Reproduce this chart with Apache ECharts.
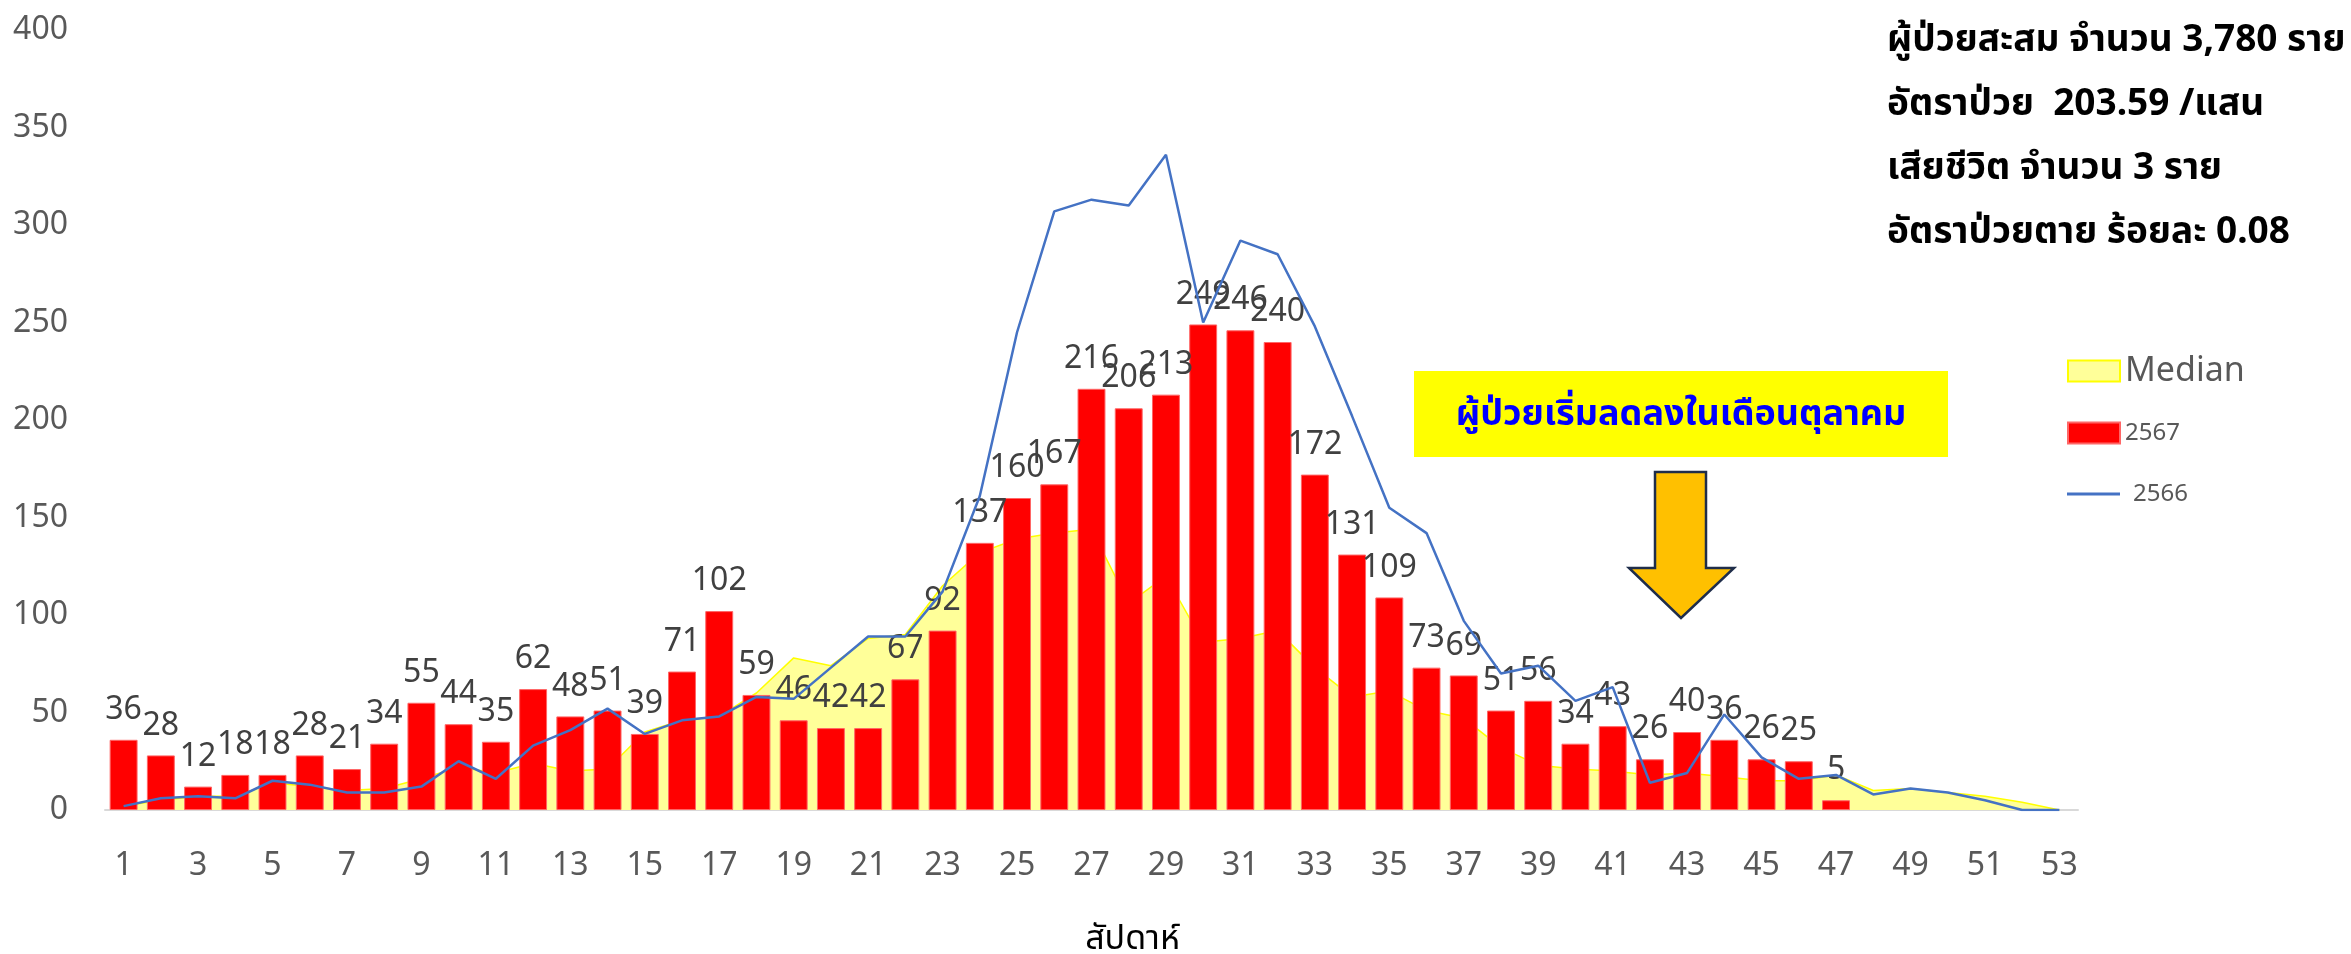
<!DOCTYPE html>
<html>
<head>
<meta charset="utf-8">
<script src="https://cdn.jsdelivr.net/npm/echarts@6/dist/echarts.min.js"></script>
<style>
  html, body { margin: 0; padding: 0; background: #ffffff; }
  #chart { width: 2351px; height: 954px; }
</style>
</head>
<body>
<div id="chart"></div>
<script>
// ---- data ----
const weeks = ['1','2','3','4','5','6','7','8','9','10','11','12','13','14','15','16','17','18','19','20',
  '21','22','23','24','25','26','27','28','29','30','31','32','33','34','35','36','37','38','39','40',
  '41','42','43','44','45','46','47','48','49','50','51','52','53'];

const cases2567 = [36,28,12,18,18,28,21,34,55,44,35,62,48,51,39,71,102,59,46,42,
  42,67,92,137,160,167,216,206,213,249,246,240,172,131,109,73,69,51,56,34,
  43,26,40,36,26,25,5];

const cases2566 = [2,6,7,6,15,13,9,9,12,25,16,33,41,52,39,46,48,58,57,73,
  89,89,112,161,245,307,313,310,336,250,292,285,248,202,155,142,97,70,74,56,
  63,14,19,49,27,16,18,8,11,9,5,0,0];

const median = [2,5,7,7,14,12,10,11,16,22,19,24,20,21,40,46,48,60,78,74,
  88,90,115,132,139,142,144,106,120,86,88,92,73,58,61,51,47,32,23,21,
  20,18,19,17,15,15,18,10,11,9,7,4,0];

const yTicks = { min: 0, max: 400, interval: 50 };

const summaryLines = [
  'ผู้ป่วยสะสม จำนวน 3,780 ราย',
  'อัตราป่วย  203.59 /แสน',
  'เสียชีวิต จำนวน 3 ราย',
  'อัตราป่วยตาย ร้อยละ 0.08'
];
const noteText = 'ผู้ป่วยเริ่มลดลงในเดือนตุลาคม';
const xAxisName = 'สัปดาห์';

// ---- chart ----
const FONT = '"Noto Sans", "Noto Sans Thai", "Segoe UI", sans-serif';
const chart = echarts.init(document.getElementById('chart'), null, { renderer: 'canvas' });

const summaryGraphics = summaryLines.map((t, i) => ({
  type: 'text',
  left: 1887,
  top: 22 + i * 64,
  style: {
    text: t,
    font: 'bold 37px ' + FONT,
    fill: '#000000'
  },
  z: 100
}));

const option = {
  backgroundColor: '#ffffff',
  animation: false,
  textStyle: { fontFamily: FONT },
  grid: { left: 105, right: 273, top: 30, bottom: 144, containLabel: false, outerBoundsMode: 'none' },
  legend: [
    {
      orient: 'vertical', left: 2062, top: 349, itemWidth: 52, itemHeight: 21, itemGap: 10,
      data: [{ name: 'Median', icon: 'rect',
        itemStyle: { color: '#FFFF99', borderColor: '#FFFF00', borderWidth: 2 } }],
      textStyle: { fontSize: 34, color: '#595959', fontFamily: FONT }
    },
    {
      orient: 'vertical', left: 2062, top: 416, itemWidth: 52, itemHeight: 21,
      data: [{ name: '2567', icon: 'rect' }],
      textStyle: { fontSize: 24, color: '#595959', fontFamily: FONT }
    },
    {
      orient: 'vertical', left: 2062, top: 477, itemWidth: 53, itemHeight: 3,
      data: [{ name: '2566', icon: 'rect', itemStyle: { color: '#4472C4' } }],
      textStyle: { fontSize: 24, color: '#595959', fontFamily: FONT, padding: [0, 0, 0, 8] }
    }
  ],
  xAxis: {
    type: 'category',
    data: weeks,
    boundaryGap: true,
    name: xAxisName,
    nameLocation: 'middle',
    nameGap: 112,
    nameTextStyle: { fontSize: 34, color: '#000000', fontFamily: FONT, padding: [0, 0, 0, 82] },
    axisLine: { show: true, lineStyle: { color: '#D9D9D9', width: 2 } },
    axisTick: { show: false },
    axisLabel: { interval: 1, fontSize: 32, color: '#595959', margin: 40, fontFamily: FONT },
    splitLine: { show: false }
  },
  yAxis: {
    type: 'value',
    min: yTicks.min, max: yTicks.max, interval: yTicks.interval,
    axisLine: { show: false },
    axisTick: { show: false },
    splitLine: { show: false },
    axisLabel: { fontSize: 32, color: '#595959', margin: 37, fontFamily: FONT }
  },
  series: [
    {
      name: 'Median',
      type: 'line',
      data: median,
      symbol: 'none',
      z: 1,
      lineStyle: { color: '#FFFF00', width: 1.5 },
      itemStyle: { color: '#FFFF99' },
      areaStyle: { color: '#FFFF99', opacity: 1 }
    },
    {
      name: '2567',
      type: 'bar',
      data: cases2567,
      barCategoryGap: '25%',
      z: 2,
      itemStyle: { color: '#FF0000', borderColor: '#FF6666', borderWidth: 1 },
      label: {
        show: true, position: 'top', distance: 14,
        fontSize: 32, color: '#404040', fontFamily: FONT
      }
    },
    {
      name: '2566',
      type: 'line',
      data: cases2566,
      symbol: 'none',
      showSymbol: false,
      z: 3,
      lineStyle: { color: '#4472C4', width: 2.5 },
      itemStyle: { color: '#4472C4' }
    }
  ],
  graphic: [
    ...summaryGraphics,
    {
      type: 'group',
      left: 1414, top: 371,
      z: 100,
      children: [
        { type: 'rect', shape: { x: 0, y: 0, width: 534, height: 86 },
          style: { fill: '#FFFF00' } },
        { type: 'text', x: 267, y: 44,
          style: { text: noteText, font: 'bold 36px ' + FONT, fill: '#0000FF',
            align: 'center', verticalAlign: 'middle' } }
      ]
    },
    {
      type: 'polygon',
      z: 100,
      shape: { points: [[1655, 472], [1706, 472], [1706, 568], [1734, 568], [1681, 618], [1629, 568], [1655, 568]] },
      style: { fill: '#FFC000', stroke: '#1F2D4A', lineWidth: 2.5, lineJoin: 'miter' }
    }
  ]
};
chart.setOption(option);
</script>
</body>
</html>
